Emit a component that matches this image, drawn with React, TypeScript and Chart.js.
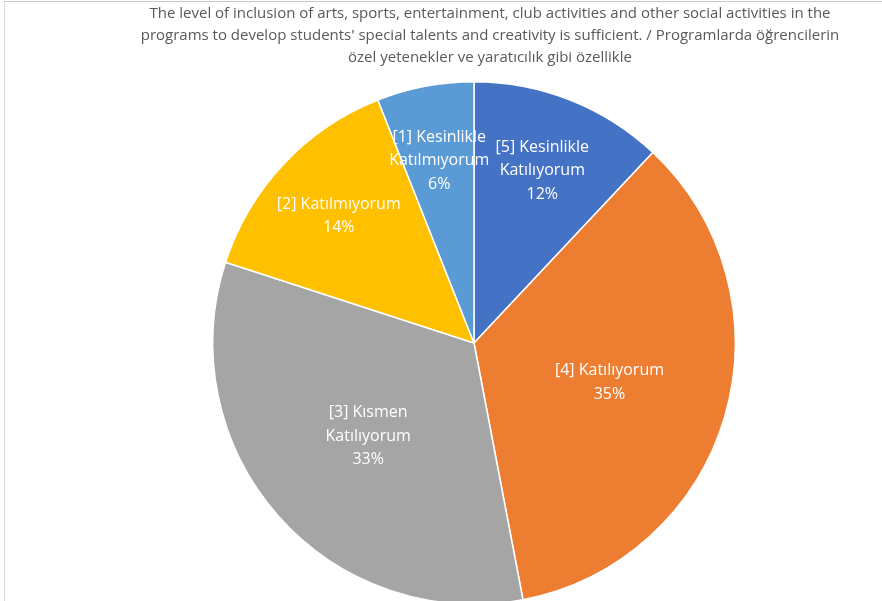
import React, { useEffect, useRef } from "react";
import { Chart, registerables } from "chart.js";

Chart.register(...registerables);

const titleLines = [
  "The level of inclusion of arts, sports, entertainment, club activities and other social activities in the",
  "programs to develop students' special talents and creativity is sufficient. / Programlarda öğrencilerin",
  "özel yetenekler ve yaratıcılık gibi özellikle",
];

const categories = [
  "[5] Kesinlikle Katılıyorum",
  "[4] Katılıyorum",
  "[3] Kısmen Katılıyorum",
  "[2] Katılmıyorum",
  "[1] Kesinlikle Katılmıyorum",
];

const percentages = [12, 35, 33, 14, 6];

const colors = ["#4472C4", "#ED7D31", "#A5A5A5", "#FFC000", "#5B9BD5"];

const FONT = "'Open Sans', Lato, sans-serif";

function wrap(ctx: CanvasRenderingContext2D, text: string, maxW: number): string[] {
  const words = text.split(" ");
  const lines: string[] = [];
  let cur = "";
  for (const w of words) {
    const test = cur ? cur + " " + w : w;
    if (cur && ctx.measureText(test).width > maxW) {
      lines.push(cur);
      cur = w;
    } else {
      cur = test;
    }
  }
  if (cur) lines.push(cur);
  return lines;
}

const titlePlugin = {
  id: "customTitle",
  afterDraw(chart: any) {
    const ctx = chart.ctx as CanvasRenderingContext2D;
    ctx.save();
    ctx.fillStyle = "#595959";
    ctx.font = `15px ${FONT}`;
    ctx.textAlign = "center";
    ctx.textBaseline = "middle";
    titleLines.forEach((l, i) => {
      ctx.fillText(l, 490, 14 + i * 22);
    });
    ctx.restore();
  },
};

const labelPlugin = {
  id: "sliceLabels",
  afterDatasetsDraw(chart: any) {
    const ctx = chart.ctx as CanvasRenderingContext2D;
    const meta = chart.getDatasetMeta(0);
    const data = chart.data.datasets[0].data as number[];
    const labels = chart.data.labels as string[];
    ctx.save();
    ctx.fillStyle = "#ffffff";
    ctx.font = `16px ${FONT}`;
    ctx.textAlign = "center";
    ctx.textBaseline = "middle";
    meta.data.forEach((arc: any, i: number) => {
      const { startAngle, endAngle, outerRadius, x, y } = arc.getProps(
        ["startAngle", "endAngle", "outerRadius", "x", "y"],
        true
      );
      const mid = (startAngle + endAngle) / 2;
      const frac = data[i] < 20 ? 0.71 : 0.54;
      const px = x + Math.cos(mid) * outerRadius * frac;
      const py = y + Math.sin(mid) * outerRadius * frac;
      const lines = [...wrap(ctx, labels[i], 150), `${data[i]}%`];
      const lh = 23.5;
      const top = py - ((lines.length - 1) * lh) / 2;
      lines.forEach((l, j) => ctx.fillText(l, px, top + j * lh));
    });
    ctx.restore();
  },
};

export default function App() {
  const ref = useRef<HTMLCanvasElement>(null);
  useEffect(() => {
    document.body.style.margin = "0";
    const chart = new Chart(ref.current!, {
      type: "pie",
      data: {
        labels: categories,
        datasets: [
          {
            data: percentages,
            backgroundColor: colors,
            borderColor: "#ffffff",
            borderWidth: 1.5,
          },
        ],
      },
      options: {
        responsive: false,
        animation: false,
        layout: { padding: { left: 212, right: 146, top: 81, bottom: 35 } },
        plugins: {
          legend: { display: false },
          tooltip: { enabled: false },
          title: { display: false },
        },
      },
      plugins: [titlePlugin, labelPlugin],
    } as any);
    return () => chart.destroy();
  }, []);
  return (
    <div
      style={{
        position: "relative",
        width: 882,
        height: 601,
        overflow: "hidden",
        background: "#ffffff",
      }}
    >
      <canvas
        ref={ref}
        width={882}
        height={640}
        style={{ display: "block", width: 882, height: 640 }}
      />
      <div style={{ position: "absolute", left: 4, top: 1, width: 878, height: 1, background: "#c8c8c8" }} />
      <div style={{ position: "absolute", left: 4, top: 1, width: 1, height: 600, background: "#d8d8d8" }} />
    </div>
  );
}
